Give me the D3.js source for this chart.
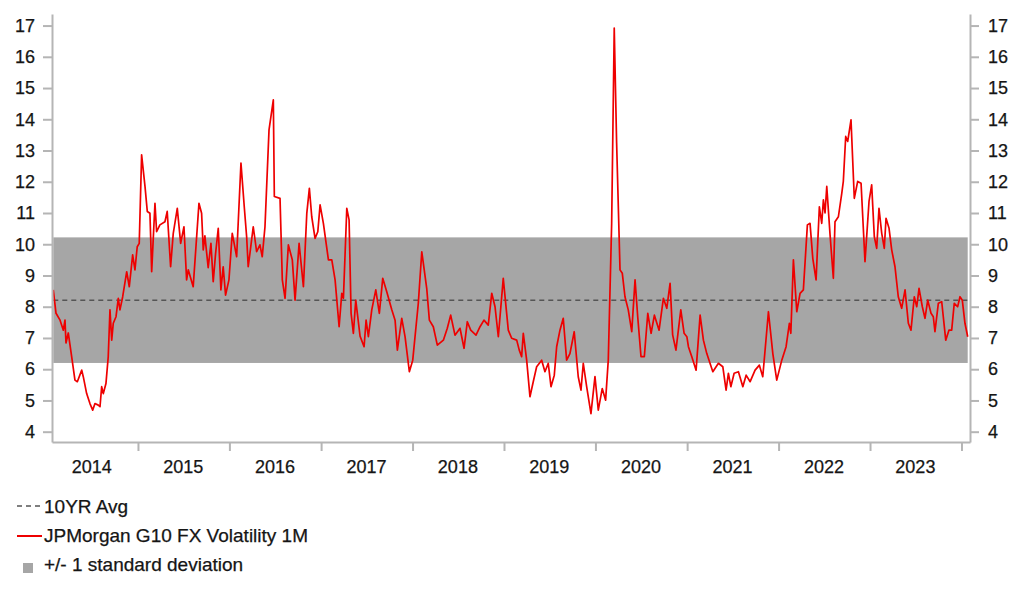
<!DOCTYPE html>
<html>
<head>
<meta charset="utf-8">
<script src="https://cdn.jsdelivr.net/npm/d3@7/dist/d3.min.js"></script>
<style>
  html, body { margin: 0; padding: 0; background: #fff; }
  svg { display: block; }
  text { font-family: "Liberation Sans", Arial, sans-serif; fill: #151515; stroke: #151515; stroke-width: 0.25px; }
</style>
</head>
<body>
<svg id="chart" width="1022" height="597"></svg>
<script>
// ---- Data (dates as decimal years) ----
const dates = [
2014.074,2014.104,2014.148,2014.184,2014.202,2014.213,2014.238,2014.275,2014.311,2014.337,
2014.385,2014.402,2014.439,2014.475,2014.505,2014.530,2014.566,2014.585,2014.603,2014.621,
2014.650,2014.675,2014.694,2014.713,2014.730,2014.760,2014.785,2014.803,2014.833,2014.877,
2014.905,2014.942,2014.967,2014.992,2015.014,2015.040,2015.077,2015.102,2015.131,2015.150,
2015.186,2015.204,2015.240,2015.295,2015.320,2015.357,2015.386,2015.430,2015.467,2015.503,
2015.532,2015.550,2015.604,2015.667,2015.696,2015.714,2015.732,2015.768,2015.798,2015.823,
2015.849,2015.878,2015.907,2015.932,2015.958,2015.995,2016.031,2016.079,2016.126,2016.162,
2016.188,2016.205,2016.224,2016.260,2016.297,2016.333,2016.358,2016.388,2016.432,2016.479,
2016.490,2016.552,2016.577,2016.607,2016.643,2016.686,2016.716,2016.760,2016.807,2016.844,
2016.872,2016.898,2016.934,2016.964,2016.989,2017.025,2017.080,2017.117,2017.153,2017.197,
2017.226,2017.244,2017.281,2017.306,2017.328,2017.353,2017.379,2017.426,2017.470,2017.492,
2017.517,2017.554,2017.598,2017.637,2017.674,2017.718,2017.773,2017.809,2017.834,2017.882,
2017.918,2017.965,2018.002,2018.063,2018.101,2018.155,2018.184,2018.227,2018.271,2018.337,
2018.380,2018.417,2018.464,2018.519,2018.563,2018.599,2018.636,2018.694,2018.738,2018.781,
2018.828,2018.866,2018.902,2018.938,2018.992,2019.047,2019.084,2019.139,2019.167,2019.193,
2019.211,2019.248,2019.284,2019.320,2019.357,2019.412,2019.448,2019.484,2019.514,2019.550,
2019.576,2019.612,2019.648,2019.685,2019.721,2019.768,2019.812,2019.842,2019.867,2019.904,
2019.951,2019.995,2020.031,2020.074,2020.111,2020.140,2020.177,2020.205,2020.231,2020.268,
2020.293,2020.322,2020.358,2020.396,2020.432,2020.461,2020.497,2020.533,2020.571,2020.607,
2020.643,2020.694,2020.741,2020.778,2020.814,2020.842,2020.878,2020.931,2020.967,2020.997,
2021.014,2021.051,2021.098,2021.142,2021.178,2021.215,2021.281,2021.342,2021.390,2021.426,
2021.451,2021.478,2021.514,2021.561,2021.609,2021.645,2021.689,2021.743,2021.790,2021.827,
2021.889,2021.937,2021.980,2022.035,2022.082,2022.118,2022.134,2022.162,2022.199,2022.235,
2022.271,2022.315,2022.344,2022.374,2022.410,2022.446,2022.472,2022.490,2022.508,2022.527,
2022.563,2022.599,2022.617,2022.654,2022.691,2022.708,2022.734,2022.756,2022.792,2022.828,
2022.865,2022.902,2022.945,2022.989,2023.018,2023.047,2023.073,2023.098,2023.128,2023.156,
2023.175,2023.208,2023.237,2023.273,2023.309,2023.346,2023.383,2023.419,2023.448,2023.484,
2023.511,2023.536,2023.572,2023.601,2023.631,2023.667,2023.692,2023.710,2023.747,2023.784,
2023.828,2023.863,2023.893,2023.921,2023.958,2023.984,2024.009,2024.038,2024.068
];
const vol1m = [
8.54,7.79,7.57,7.25,7.57,6.84,7.16,6.40,5.65,5.60,
5.97,5.76,5.22,4.90,4.69,4.90,4.85,4.80,5.44,5.22,
5.54,6.40,7.90,6.93,7.47,7.68,8.27,7.90,8.32,9.12,
8.64,9.66,9.18,9.92,10.03,12.86,11.85,11.05,10.99,9.12,
11.31,10.40,10.62,10.72,11.05,9.28,10.35,11.15,10.03,10.56,
8.86,9.18,8.64,11.31,10.99,9.82,10.27,9.25,10.03,8.80,
9.71,10.51,8.54,9.28,8.37,8.86,10.35,9.60,12.60,11.20,
10.24,9.28,9.71,10.56,9.76,9.98,9.60,10.56,13.66,14.62,
11.53,11.47,8.86,8.27,9.98,9.50,8.21,10.03,8.64,10.99,
11.79,10.88,10.19,10.40,11.26,10.67,9.50,9.50,8.86,7.36,
8.43,8.27,11.15,10.78,7.79,7.15,8.21,7.06,6.72,7.57,
7.04,7.90,8.54,7.79,8.91,8.48,7.90,7.57,6.61,7.63,
7.04,5.92,6.29,8.11,9.76,8.59,7.57,7.36,6.77,6.93,
7.31,7.73,7.09,7.31,6.67,7.52,7.25,7.09,7.36,7.57,
7.41,8.43,8.00,7.04,8.91,7.25,6.99,6.93,6.61,6.40,
7.15,6.29,5.12,5.60,6.08,6.29,5.92,6.19,5.44,5.81,
6.72,7.25,7.63,6.29,6.50,7.20,5.76,5.33,6.19,5.44,
4.58,5.76,4.69,5.38,5.01,6.29,10.67,16.92,13.24,9.18,
9.07,8.32,7.90,7.20,8.86,7.68,6.40,6.40,7.79,7.15,
7.73,7.25,8.27,7.95,8.75,7.10,6.61,7.90,7.15,7.04,
6.72,6.40,5.97,7.73,6.93,6.50,5.92,6.19,6.08,5.33,
5.87,5.44,5.87,5.92,5.44,5.81,5.60,5.97,6.13,5.76,
7.84,6.50,5.65,6.29,6.72,7.47,7.15,9.50,7.84,8.43,
8.54,10.62,10.67,9.55,8.86,11.20,10.67,11.42,11.00,11.85,
10.30,8.91,10.72,10.88,11.63,12.01,13.45,13.29,13.98,11.47,
12.01,11.95,9.44,11.37,11.90,10.24,9.87,11.15,10.35,9.87,
10.83,10.51,9.82,9.28,8.32,7.95,8.54,7.47,7.25,8.32,
8.00,8.59,8.00,7.63,8.21,7.79,7.68,7.20,8.11,8.16,
6.93,7.25,7.25,8.11,8.00,8.32,8.21,7.47,7.04
];
const avg10yr = 8.21;
const stdDev = 2.01;
const yTicks = [4,5,6,7,8,9,10,11,12,13,14,15,16,17];
const yearLabels = [2014,2015,2016,2017,2018,2019,2020,2021,2022,2023];
const legendLabels = ["10YR Avg", "JPMorgan G10 FX Volatility 1M", "+/- 1 standard deviation"];

(function () {
  function decToDate(d) {
    const yr = Math.floor(d);
    const s = new Date(yr, 0, 1).getTime();
    const e = new Date(yr + 1, 0, 1).getTime();
    return new Date(s + (d - yr) * (e - s));
  }
  const data = dates.map((d, i) => ({ date: decToDate(d), value: vol1m[i] }));

  const svg = d3.select("#chart");
  const pL = 52, pR = 970, pT = 14, pB = 442;

  const x = d3.scaleTime()
    .domain([decToDate(2014.06), decToDate(2024.093)])
    .range([pL, pR]);
  const y = d3.scaleLinear()
    .domain([3.67, 17.37])
    .range([pB, pT]);

  const xFirst = x(data[0].date), xLast = x(data[data.length - 1].date);

  svg.append("rect")
    .attr("x", xFirst)
    .attr("width", xLast - xFirst)
    .attr("y", y(avg10yr + stdDev))
    .attr("height", y(avg10yr - stdDev) - y(avg10yr + stdDev))
    .attr("fill", "#a6a6a6");

  svg.append("line")
    .attr("x1", xFirst).attr("x2", xLast)
    .attr("y1", y(avg10yr)).attr("y2", y(avg10yr))
    .attr("stroke", "#555").attr("stroke-width", 1.5)
    .attr("stroke-dasharray", "5,4");

  svg.append("path")
    .datum(data)
    .attr("fill", "none")
    .attr("stroke", "#ee0000")
    .attr("stroke-width", 1.7)
    .attr("stroke-linejoin", "round")
    .attr("d", d3.line().x(d => x(d.date)).y(d => y(d.value)));

  const axisColor = "#b5b5b5";

  const yAxisL = svg.append("g").attr("transform", `translate(${pL},0)`)
    .call(d3.axisLeft(y).tickValues(yTicks).tickSize(9).tickPadding(8).tickSizeOuter(0));
  const yAxisR = svg.append("g").attr("transform", `translate(${pR},0)`)
    .call(d3.axisRight(y).tickValues(yTicks).tickSize(9).tickPadding(9).tickSizeOuter(0));
  const yearStarts = d3.range(2015, 2025).map(v => new Date(v, 0, 1));
  const xAxis = svg.append("g").attr("transform", `translate(0,${pB})`)
    .call(d3.axisBottom(x).tickValues(yearStarts).tickSize(9).tickFormat("").tickSizeOuter(0));

  [yAxisL, yAxisR, xAxis].forEach(g => {
    g.select(".domain").attr("stroke", axisColor).attr("stroke-width", 2);
    g.selectAll(".tick line").attr("stroke", axisColor).attr("stroke-width", 2);
    g.selectAll("text").attr("font-size", 18).attr("fill", "#151515")
      .attr("font-family", "'Liberation Sans', Arial, sans-serif");
  });

  svg.append("g").selectAll("text")
    .data(yearLabels)
    .join("text")
    .attr("x", d => x(new Date(d, 6, 1)))
    .attr("y", 473)
    .attr("text-anchor", "middle")
    .attr("font-size", 18)
    .text(d => d);

  const lg = svg.append("g");
  lg.append("line").attr("x1", 17).attr("x2", 42).attr("y1", 506).attr("y2", 506)
    .attr("stroke", "#555").attr("stroke-width", 1.5).attr("stroke-dasharray", "5,4");
  lg.append("line").attr("x1", 17).attr("x2", 42).attr("y1", 536).attr("y2", 536)
    .attr("stroke", "#ee0000").attr("stroke-width", 2);
  lg.append("rect").attr("x", 23).attr("y", 563).attr("width", 10).attr("height", 10)
    .attr("fill", "#a6a6a6");
  lg.selectAll("text.leg")
    .data(legendLabels)
    .join("text")
    .attr("class", "leg")
    .attr("x", 44)
    .attr("y", (d, i) => 513 + i * 29)
    .attr("font-size", 19)
    .text(d => d);
})();
</script>
</body>
</html>
